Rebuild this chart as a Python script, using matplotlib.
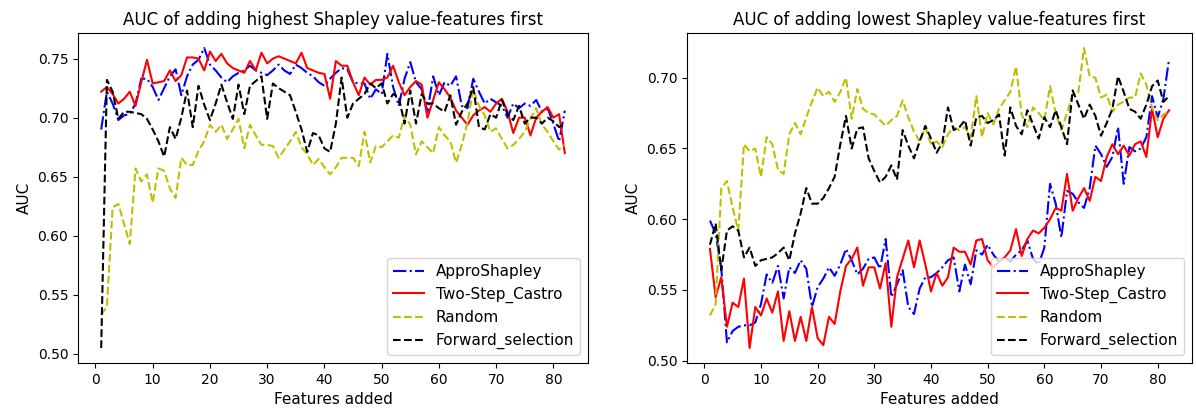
import matplotlib
matplotlib.use("Agg")
from matplotlib import pyplot as plt

features = list(range(1, 83))

# highest Shapley value first
high_appro = [0.690, 0.722, 0.712, 0.698, 0.702, 0.703, 0.712, 0.733, 0.733, 0.726,
              0.715, 0.725, 0.735, 0.741, 0.719, 0.735, 0.745, 0.749, 0.759, 0.745,
              0.740, 0.734, 0.730, 0.735, 0.738, 0.740, 0.744, 0.740, 0.738, 0.736,
              0.740, 0.745, 0.740, 0.737, 0.745, 0.742, 0.738, 0.735, 0.730, 0.727,
              0.733, 0.738, 0.742, 0.741, 0.730, 0.729, 0.729, 0.716, 0.724, 0.720,
              0.754, 0.726, 0.710, 0.733, 0.747, 0.730, 0.724, 0.705, 0.735, 0.719,
              0.730, 0.727, 0.735, 0.710, 0.708, 0.733, 0.722, 0.712, 0.716, 0.713,
              0.710, 0.700, 0.712, 0.708, 0.712, 0.710, 0.715, 0.705, 0.708, 0.695,
              0.680, 0.706]
high_castro = [0.722, 0.726, 0.720, 0.712, 0.716, 0.722, 0.710, 0.730, 0.749, 0.729,
               0.730, 0.731, 0.740, 0.731, 0.736, 0.751, 0.751, 0.750, 0.740, 0.756,
               0.748, 0.754, 0.746, 0.742, 0.740, 0.738, 0.748, 0.740, 0.755, 0.746,
               0.750, 0.752, 0.750, 0.748, 0.746, 0.755, 0.742, 0.740, 0.738, 0.737,
               0.716, 0.748, 0.744, 0.744, 0.730, 0.719, 0.734, 0.728, 0.732, 0.732,
               0.734, 0.744, 0.730, 0.719, 0.726, 0.731, 0.728, 0.700, 0.715, 0.730,
               0.724, 0.717, 0.706, 0.700, 0.694, 0.702, 0.706, 0.709, 0.705, 0.712,
               0.716, 0.705, 0.687, 0.700, 0.700, 0.685, 0.700, 0.705, 0.709, 0.700,
               0.703, 0.670]
high_random = [0.533, 0.540, 0.624, 0.627, 0.610, 0.593, 0.657, 0.646, 0.652, 0.628,
               0.657, 0.655, 0.640, 0.632, 0.666, 0.660, 0.660, 0.672, 0.680, 0.694,
               0.688, 0.694, 0.682, 0.690, 0.699, 0.674, 0.694, 0.685, 0.677, 0.677,
               0.676, 0.666, 0.673, 0.680, 0.688, 0.675, 0.669, 0.660, 0.665, 0.658,
               0.652, 0.658, 0.666, 0.666, 0.666, 0.659, 0.688, 0.662, 0.676, 0.675,
               0.680, 0.685, 0.683, 0.702, 0.694, 0.669, 0.680, 0.675, 0.670, 0.692,
               0.685, 0.680, 0.662, 0.677, 0.696, 0.724, 0.710, 0.702, 0.688, 0.691,
               0.682, 0.674, 0.677, 0.682, 0.688, 0.699, 0.708, 0.694, 0.688, 0.680,
               0.673, 0.677]
high_forward = [0.505, 0.732, 0.722, 0.699, 0.705, 0.705, 0.704, 0.703, 0.699, 0.690,
                0.680, 0.667, 0.692, 0.682, 0.700, 0.723, 0.692, 0.727, 0.711, 0.698,
                0.712, 0.728, 0.713, 0.699, 0.728, 0.703, 0.727, 0.731, 0.735, 0.699,
                0.729, 0.725, 0.722, 0.719, 0.705, 0.690, 0.671, 0.687, 0.685, 0.674,
                0.671, 0.695, 0.734, 0.700, 0.712, 0.716, 0.720, 0.729, 0.725, 0.729,
                0.712, 0.720, 0.717, 0.695, 0.723, 0.695, 0.720, 0.712, 0.712, 0.708,
                0.705, 0.719, 0.694, 0.705, 0.712, 0.726, 0.692, 0.690, 0.703, 0.700,
                0.715, 0.703, 0.698, 0.710, 0.695, 0.700, 0.700, 0.695, 0.700, 0.697,
                0.692, 0.695]

# lowest Shapley value first
low_appro = [0.599, 0.590, 0.565, 0.513, 0.521, 0.524, 0.525, 0.525, 0.527, 0.540,
             0.561, 0.555, 0.567, 0.544, 0.566, 0.562, 0.571, 0.565, 0.538, 0.552,
             0.558, 0.566, 0.560, 0.568, 0.579, 0.571, 0.561, 0.565, 0.572, 0.573,
             0.565, 0.586, 0.545, 0.554, 0.564, 0.538, 0.533, 0.551, 0.559, 0.559,
             0.562, 0.566, 0.571, 0.573, 0.549, 0.568, 0.554, 0.578, 0.575, 0.582,
             0.575, 0.570, 0.573, 0.570, 0.575, 0.578, 0.585, 0.572, 0.568, 0.580,
             0.625, 0.611, 0.587, 0.620, 0.618, 0.612, 0.608, 0.622, 0.652, 0.646,
             0.637, 0.644, 0.665, 0.625, 0.651, 0.648, 0.650, 0.658, 0.687, 0.672,
             0.685, 0.713]
low_castro = [0.579, 0.545, 0.559, 0.524, 0.541, 0.538, 0.558, 0.509, 0.538, 0.532,
              0.544, 0.534, 0.549, 0.514, 0.535, 0.514, 0.531, 0.514, 0.538, 0.516,
              0.511, 0.531, 0.526, 0.549, 0.567, 0.572, 0.580, 0.553, 0.566, 0.566,
              0.551, 0.569, 0.524, 0.559, 0.572, 0.585, 0.566, 0.585, 0.568, 0.549,
              0.562, 0.553, 0.559, 0.580, 0.577, 0.577, 0.568, 0.585, 0.586, 0.571,
              0.566, 0.570, 0.573, 0.578, 0.593, 0.574, 0.586, 0.592, 0.590, 0.594,
              0.600, 0.608, 0.606, 0.632, 0.606, 0.615, 0.622, 0.613, 0.630, 0.627,
              0.644, 0.653, 0.646, 0.652, 0.645, 0.653, 0.655, 0.644, 0.678, 0.658,
              0.671, 0.677]
low_random = [0.532, 0.540, 0.622, 0.627, 0.608, 0.592, 0.653, 0.648, 0.650, 0.630,
              0.658, 0.653, 0.635, 0.632, 0.660, 0.668, 0.660, 0.672, 0.683, 0.693,
              0.687, 0.690, 0.683, 0.690, 0.700, 0.671, 0.692, 0.678, 0.675, 0.674,
              0.670, 0.666, 0.670, 0.673, 0.684, 0.672, 0.662, 0.655, 0.665, 0.653,
              0.655, 0.651, 0.660, 0.665, 0.663, 0.665, 0.658, 0.687, 0.658, 0.675,
              0.667, 0.678, 0.684, 0.690, 0.708, 0.674, 0.665, 0.679, 0.675, 0.670,
              0.694, 0.675, 0.663, 0.675, 0.688, 0.690, 0.721, 0.701, 0.700, 0.686,
              0.688, 0.676, 0.681, 0.683, 0.686, 0.686, 0.703, 0.695, 0.679, 0.670,
              0.674, 0.676]
low_forward = [0.582, 0.597, 0.564, 0.592, 0.595, 0.592, 0.573, 0.580, 0.567, 0.571,
               0.572, 0.573, 0.576, 0.580, 0.571, 0.590, 0.604, 0.622, 0.611, 0.611,
               0.615, 0.622, 0.630, 0.653, 0.673, 0.650, 0.664, 0.665, 0.643, 0.634,
               0.626, 0.630, 0.638, 0.628, 0.663, 0.652, 0.643, 0.655, 0.666, 0.657,
               0.647, 0.654, 0.679, 0.663, 0.665, 0.670, 0.652, 0.672, 0.673, 0.668,
               0.670, 0.674, 0.645, 0.679, 0.666, 0.660, 0.677, 0.667, 0.657, 0.672,
               0.665, 0.677, 0.665, 0.653, 0.691, 0.681, 0.671, 0.681, 0.673, 0.659,
               0.668, 0.678, 0.701, 0.690, 0.678, 0.676, 0.671, 0.681, 0.694, 0.698,
               0.683, 0.687]

labels = ['ApproShapley', 'Two-Step_Castro', 'Random', 'Forward_selection']
styles = [('b', '-.'), ('r', '-'), ('y', '--'), ('k', '--')]

fig = plt.figure(figsize=(11.96, 4.15), dpi=100)
ax1 = fig.add_axes([78 / 1196, 1 - 363 / 415, 510 / 1196, 330 / 415])
ax2 = fig.add_axes([687 / 1196, 1 - 363 / 415, 505 / 1196, 330 / 415])

panels = [
    (ax1, [high_appro, high_castro, high_random, high_forward],
     'AUC of adding highest Shapley value-features first'),
    (ax2, [low_appro, low_castro, low_random, low_forward],
     'AUC of adding lowest Shapley value-features first'),
]

for ax, series, title in panels:
    for values, label, (c, ls) in zip(series, labels, styles):
        ax.plot(features, values, color=c, linestyle=ls, label=label)
    ax.set_xlabel('Features added', fontsize=11)
    ax.set_ylabel('AUC', fontsize=11)
    ax.set_title(title, fontsize=12)
    ax.legend(loc='lower right', fontsize=11)

fig.savefig('out.png', dpi=100)
